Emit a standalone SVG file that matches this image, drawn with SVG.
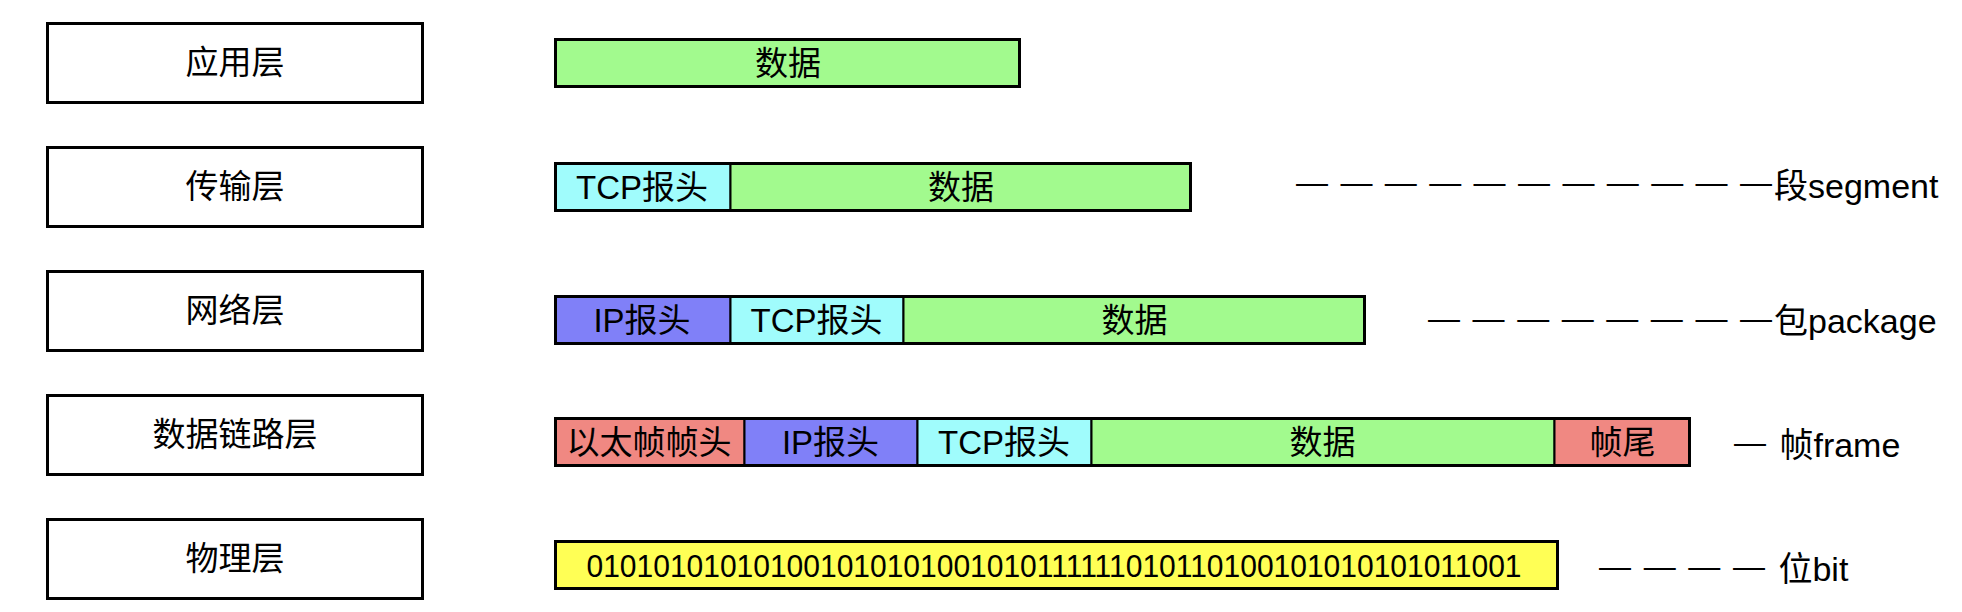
<svg xmlns="http://www.w3.org/2000/svg" width="1962" height="612" viewBox="0 0 1962 612">
<style>
text{font-family:"Liberation Sans","Noto Sans CJK SC",sans-serif;fill:#000}
.lb{font-size:33px;text-anchor:middle}
.bt{font-size:33px;text-anchor:middle}
.bits{font-size:32px;text-anchor:middle}
.r{font-size:34px}
.d{font-size:32px}
.box{fill:#fff;stroke:#000;stroke-width:3}
.seg{stroke:#000;stroke-width:2}
.out{fill:none;stroke:#000;stroke-width:3}
.g{fill:#A2FA8E}.c{fill:#A0FCFC}.b{fill:#8080F8}.s{fill:#F08882}.y{fill:#FFFF55}
</style>
<rect width="1962" height="612" fill="#fff"/>
<g id="layer-app">
<rect class="box" x="47.5" y="23.5" width="375" height="79"/>
<text class="lb" x="235" y="74">应用层</text>
</g>
<g id="layer-transport">
<rect class="box" x="47.5" y="147.5" width="375" height="79"/>
<text class="lb" x="235" y="198">传输层</text>
</g>
<g id="layer-network">
<rect class="box" x="47.5" y="271.5" width="375" height="79"/>
<text class="lb" x="235" y="322">网络层</text>
</g>
<g id="layer-link">
<rect class="box" x="47.5" y="395.5" width="375" height="79"/>
<text class="lb" x="235" y="446">数据链路层</text>
</g>
<g id="layer-physical">
<rect class="box" x="47.5" y="519.5" width="375" height="79"/>
<text class="lb" x="235" y="570">物理层</text>
</g>
<g id="bar-app">
<rect class="seg g" x="555.5" y="39.5" width="464" height="47"/>
<rect class="out" x="555.5" y="39.5" width="464" height="47"/>
<text class="bt" x="788" y="75">数据</text>
</g>
<g id="bar-transport">
<rect class="seg c" x="555.5" y="163.5" width="175" height="47"/>
<rect class="seg g" x="730.5" y="163.5" width="460" height="47"/>
<rect class="out" x="555.5" y="163.5" width="635" height="47"/>
<text class="bt" x="642" y="199">TCP报头</text>
<text class="bt" x="961" y="199">数据</text>
</g>
<g id="bar-network">
<rect class="seg b" x="555.5" y="296.5" width="175" height="47"/>
<rect class="seg c" x="730.5" y="296.5" width="173" height="47"/>
<rect class="seg g" x="903.5" y="296.5" width="461" height="47"/>
<rect class="out" x="555.5" y="296.5" width="809" height="47"/>
<text class="bt" x="642" y="332">IP报头</text>
<text class="bt" x="816.5" y="332">TCP报头</text>
<text class="bt" x="1134.5" y="332">数据</text>
</g>
<g id="bar-link">
<rect class="seg s" x="555.5" y="418.5" width="189" height="47"/>
<rect class="seg b" x="744.5" y="418.5" width="173" height="47"/>
<rect class="seg c" x="917.5" y="418.5" width="174" height="47"/>
<rect class="seg g" x="1091.5" y="418.5" width="463" height="47"/>
<rect class="seg s" x="1554.5" y="418.5" width="135" height="47"/>
<rect class="out" x="555.5" y="418.5" width="1134" height="47"/>
<text class="bt" x="649" y="454">以太帧帧头</text>
<text class="bt" x="830.5" y="454">IP报头</text>
<text class="bt" x="1004" y="454">TCP报头</text>
<text class="bt" x="1322.5" y="454">数据</text>
<text class="bt" x="1622.5" y="454">帧尾</text>
</g>
<g id="bar-physical">
<rect class="y" x="555.5" y="541.5" width="1002" height="47"/>
<rect class="out" x="555.5" y="541.5" width="1002" height="47"/>
<text class="bits" x="1054" y="577" textLength="935" lengthAdjust="spacingAndGlyphs">010101010101001010101001010111111010110100101010101011001</text>
</g>
<g id="connectors"></g>
<g id="unit-labels">
<text class="r"><tspan class="d" x="1296" y="193" textLength="476" lengthAdjust="spacing">— — — — — — — — — — —</tspan><tspan x="1774" y="198">段segment</tspan></text>
<text class="r"><tspan class="d" x="1428" y="329" textLength="344" lengthAdjust="spacing">— — — — — — — —</tspan><tspan x="1774" y="333">包package</tspan></text>
<text class="r"><tspan class="d" x="1734" y="453">—</tspan><tspan x="1770" y="457"> 帧frame</tspan></text>
<text class="r"><tspan class="d" x="1599" y="577" textLength="166" lengthAdjust="spacing">— — — —</tspan><tspan x="1769" y="581"> 位bit</tspan></text>
</g>
</svg>
